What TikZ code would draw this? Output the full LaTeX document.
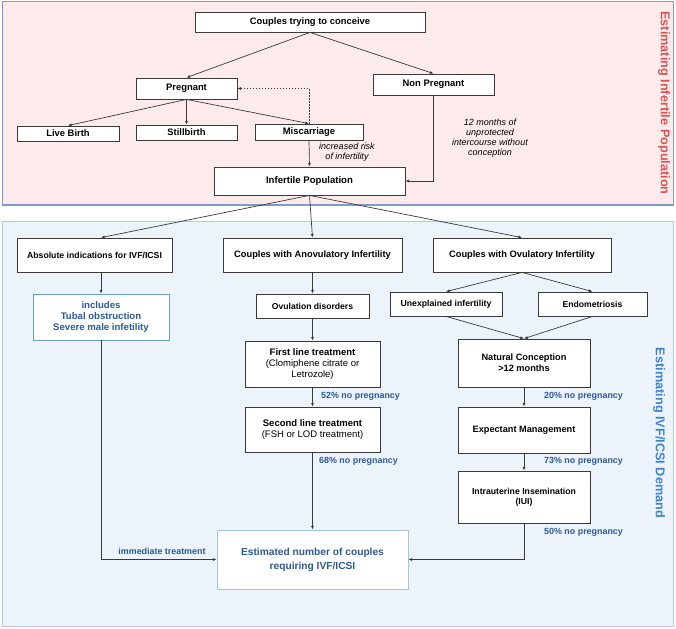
\documentclass[tikz,border=0pt]{standalone}
\usepackage{fontspec}
\setmainfont{Liberation Sans}
\usetikzlibrary{arrows.meta}

\definecolor{pinkfill}{HTML}{FDEBEB}
\definecolor{pinkedge}{HTML}{7E9DC6}
\definecolor{bluefill}{HTML}{EDF3FB}
\definecolor{blueedge}{HTML}{B5CBE5}
\definecolor{redtitle}{HTML}{DB5557}
\definecolor{bluetitle}{HTML}{3D86CC}
\definecolor{labelblue}{HTML}{2C5A96}
\definecolor{boxline}{HTML}{3A3A3A}
\definecolor{incedge}{HTML}{6E9DD6}

\tikzset{
  box/.style={draw=boxline, line width=0.8pt, fill=white, align=center,
    inner sep=0pt, font=\fontsize{9.4}{10.5}\selectfont\bfseries},
  smallbox/.style={box, font=\fontsize{8.6}{10.5}\selectfont\bfseries},
  treatbox/.style={box, font=\fontsize{9.5}{11}\selectfont\bfseries},
  bluebox/.style={box, draw=incedge, text=labelblue},
  conn/.style={draw=boxline, line width=0.7pt, -{Latex[length=3.6pt,width=3pt]}},
  dashconn/.style={conn, dashed, dash pattern=on 1.6pt off 1.4pt},
  note/.style={align=center, inner sep=0pt, font=\fontsize{9}{10}\selectfont\itshape},
  pct/.style={anchor=west, inner sep=0pt, text=labelblue,
    font=\fontsize{8.9}{10}\selectfont\bfseries},
  sidetitle/.style={rotate=-90, inner sep=0pt, font=\fontsize{12.7}{14}\selectfont\bfseries},
}

\begin{document}
\begin{tikzpicture}[x=1pt, y=-1pt]
  \useasboundingbox (0,0) rectangle (676,628);

  % two background panels
  \filldraw[fill=pinkfill, draw=pinkedge, line width=1pt] (2,2) rectangle (673,205);
  \filldraw[fill=bluefill, draw=blueedge, line width=1pt] (2,221) rectangle (673,626);

  \node[sidetitle, text=redtitle] (t1) at (664,103) {Estimating Infertile Population};
  \node[sidetitle, text=bluetitle] (t2) at (659,433) {Estimating IVF/ICSI Demand};

  % upper part: who becomes infertile
  \node[box, minimum width=230pt, minimum height=20pt] (couples) at (310,22) {Couples trying to conceive};
  \node[box, minimum width=101pt, minimum height=21pt] (preg) at (186.5,88.5) {Pregnant};
  \node[box, minimum width=121pt, minimum height=21pt] (np) at (433.5,84.5) {Non Pregnant};
  \node[box, minimum width=102pt, minimum height=15pt] (live) at (68,133.5) {Live Birth};
  \node[box, minimum width=101pt, minimum height=15pt] (still) at (186.5,132.5) {Stillbirth};
  \node[box, minimum width=108pt, minimum height=16pt] (misc) at (309,132) {Miscarriage};
  \node[box, font=\fontsize{9.6}{10.5}\selectfont\bfseries, minimum width=191pt, minimum height=28pt] (inf) at (309.5,181) {Infertile Population};

  \node[note] (risk) at (347,152) {increased risk\\of infertility};
  \node[note] (months) at (490,138) {12 months of\\unprotected\\intercourse without\\conception};

  \draw[conn] (couples.south) -- (preg.north);
  \draw[conn] (couples.south) -- (np.north);
  \draw[conn] (preg.south) -- (live.north);
  \draw[conn] (preg.south) -- (still.north);
  \draw[conn] (preg.south) -- (misc.north);
  \draw[dashconn] (misc.north) |- (preg.east);
  \draw[conn] (misc.south) -- (inf.north);
  \draw[conn] (np.south) |- (inf.east);

  % lower part: routes to IVF/ICSI
  \node[smallbox, font=\fontsize{8.7}{10.5}\selectfont\bfseries, minimum width=155pt, minimum height=34pt] (abs) at (94.5,255) {Absolute indications for IVF/ICSI};
  \node[box, font=\fontsize{9.3}{10.5}\selectfont\bfseries, minimum width=179pt, minimum height=34pt] (anov) at (312.5,255) {Couples with Anovulatory Infertility};
  \node[box, font=\fontsize{9.3}{10.5}\selectfont\bfseries, minimum width=178pt, minimum height=34pt] (ovul) at (522,255) {Couples with Ovulatory Infertility};

  \node[bluebox, font=\fontsize{9.6}{10.6}\selectfont\bfseries, minimum width=136pt, minimum height=46pt] (inc) at (101,317)
    {includes\\Tubal obstruction\\Severe male infetility};
  \node[smallbox, minimum width=113pt, minimum height=24pt] (ovd) at (312.5,306) {Ovulation disorders};
  \node[smallbox, font=\fontsize{8.7}{10.5}\selectfont\bfseries, minimum width=112pt, minimum height=24pt] (unex) at (446,304) {Unexplained infertility};
  \node[smallbox, minimum width=109pt, minimum height=24pt] (endo) at (592.5,304) {Endometriosis};

  \node[treatbox, minimum width=135pt, minimum height=46pt] (first) at (312.5,364)
    {First line treatment\\\mdseries (Clomiphene citrate or\\\mdseries Letrozole)};
  \node[treatbox, minimum width=135pt, minimum height=45pt] (second) at (312.5,429.5)
    {Second line treatment\\\mdseries (FSH or LOD treatment)};
  \node[treatbox, font=\fontsize{9.2}{11}\selectfont\bfseries, minimum width=132pt, minimum height=48pt] (nat) at (524,363)
    {Natural Conception\\>12 months};
  \node[treatbox, font=\fontsize{9.2}{11}\selectfont\bfseries, minimum width=132pt, minimum height=46pt] (exp) at (524,430)
    {Expectant Management};
  \node[smallbox, font=\fontsize{8.7}{10.5}\selectfont\bfseries, minimum width=132pt, minimum height=52pt] (iui) at (524,497)
    {Intrauterine Insemination\\(IUI)};

  \node[bluebox, draw=blueedge!80!incedge, font=\fontsize{10.2}{14}\selectfont\bfseries, minimum width=191pt, minimum height=59pt] (est) at (312.5,559.5)
    {Estimated number of couples\\requiring IVF/ICSI};

  \draw[conn] (inf.south) -- (abs.north -| inc.north);
  \draw[conn] (inf.south) -- (anov.north);
  \draw[conn] (inf.south) -- (ovul.north);
  \draw[conn] (abs.south -| inc.north) -- (inc.north);
  \draw[conn] (anov.south) -- (ovd.north);
  \draw[conn] (ovul.south) -- (unex.north);
  \draw[conn] (ovul.south) -- (endo.north);
  \draw[conn] (unex.south) -- (nat.north);
  \draw[conn] (endo.south) -- (nat.north);
  \draw[conn] (ovd.south) -- (first.north);
  \draw[conn] (first.south) -- (second.north);
  \draw[conn] (second.south) -- (est.north);
  \draw[conn] (nat.south) -- (exp.north);
  \draw[conn] (exp.south) -- (iui.north);
  \draw[conn] (iui.south) |- (est.east);
  \draw[conn] (inc.south) |- (est.west);

  \node[pct] (p52) at (321,396) {52\% no pregnancy};
  \node[pct] (p68) at (319,461) {68\% no pregnancy};
  \node[pct] (p20) at (544,396) {20\% no pregnancy};
  \node[pct] (p73) at (544,461) {73\% no pregnancy};
  \node[pct] (p50) at (544,532) {50\% no pregnancy};
  \node[pct, anchor=center] (imm) at (162,551) {immediate treatment};
\end{tikzpicture}
\end{document}
